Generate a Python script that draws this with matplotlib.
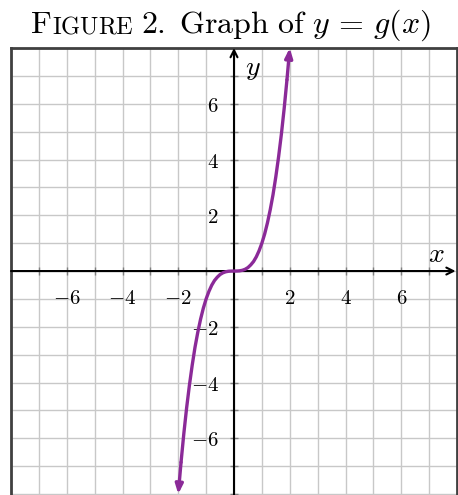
import matplotlib.pyplot as plt

plt.rcParams["mathtext.fontset"] = "cm"

# points along y = g(x), read every 0.1
xs = [-2.0, -1.9, -1.8, -1.7, -1.6, -1.5, -1.4, -1.3, -1.2, -1.1, -1.0,
      -0.9, -0.8, -0.7, -0.6, -0.5, -0.4, -0.3, -0.2, -0.1, 0.0,
      0.1, 0.2, 0.3, 0.4, 0.5, 0.6, 0.7, 0.8, 0.9, 1.0,
      1.1, 1.2, 1.3, 1.4, 1.5, 1.6, 1.7, 1.8, 1.9, 2.0]
ys = [-8.0, -6.86, -5.83, -4.91, -4.10, -3.38, -2.74, -2.20, -1.73, -1.33, -1.0,
      -0.73, -0.51, -0.34, -0.22, -0.125, -0.064, -0.027, -0.008, -0.001, 0.0,
      0.001, 0.008, 0.027, 0.064, 0.125, 0.22, 0.34, 0.51, 0.73, 1.0,
      1.33, 1.73, 2.20, 2.74, 3.38, 4.10, 4.91, 5.83, 6.86, 8.0]

x_labels = [-6, -4, -2, 2, 4, 6]
y_labels = [-6, -4, -2, 2, 4, 6]
grid_vals = list(range(-8, 9))

purple = "#8b2a98"

fig = plt.figure(figsize=(4.58, 4.95), dpi=100)
W, H = 458, 495
ax = fig.add_axes([11 / W, 1 - 498 / H, 446 / W, 450 / H])
ax.set_xlim(-8, 8)
ax.set_ylim(-8.14, 8)

ax.set_xticks(grid_vals)
ax.set_yticks(grid_vals)
ax.grid(True, color="#c8c8c8", lw=1)
ax.set_axisbelow(True)
ax.tick_params(length=0, labelbottom=False, labelleft=False)
for s in ax.spines.values():
    s.set_color("#404040")
    s.set_linewidth(2)

# coordinate axes
ax.annotate("", xy=(7.95, 0), xytext=(-8, 0),
            arrowprops=dict(arrowstyle="->,head_length=0.5,head_width=0.25",
                            lw=1.5, color="k", shrinkA=0, shrinkB=0))
ax.annotate("", xy=(0, 8), xytext=(0, -8.14),
            arrowprops=dict(arrowstyle="->,head_length=0.5,head_width=0.25",
                            lw=1.5, color="k", shrinkA=0, shrinkB=0))

ticks = [v for v in grid_vals if v != 0]
ax.plot(ticks, [0] * len(ticks), ls="none", marker="|", ms=6, color="#808080", mew=1)
ax.plot([0] * len(ticks), ticks, ls="none", marker="_", ms=6, color="#808080", mew=1)

for v in x_labels:
    ax.annotate(f"${v}$", (v, 0), xytext=(0, -12), textcoords="offset points",
                ha="center", va="top", fontsize=15)
for v in y_labels:
    ax.annotate(f"${v}$", (0, v), xytext=(-11, 0), textcoords="offset points",
                ha="right", va="center_baseline", fontsize=15)

ax.text(7.25, 0.62, "$x$", fontsize=20, ha="center", va="center")
ax.text(0.68, 7.28, "$y$", fontsize=20, ha="center", va="center")

# the curve with arrow heads at both ends
ax.plot(xs[1:-1], ys[1:-1], color=purple, lw=2.4, solid_capstyle="round", zorder=5)
head = dict(arrowstyle="-|>,head_length=0.55,head_width=0.22", lw=2.4,
            color=purple, shrinkA=0, shrinkB=0)
ax.annotate("", xy=(xs[-1], ys[-1]), xytext=(xs[-2], ys[-2]), arrowprops=head, zorder=5)
ax.annotate("", xy=(xs[0], ys[0]), xytext=(xs[1], ys[1]), arrowprops=head, zorder=5)

# title in small caps pieces
r = fig.canvas.get_renderer()
x0 = 30
base = 1 - 33 / H
parts = [(r"$\mathrm{F}$", 23, 0), (r"$\mathrm{IGURE}$", 17.5, 1),
         (r"$\mathrm{2.}$", 23, 7), (r"$\mathrm{Graph\ of}\ y\,=\,g(x)$", 23, 14)]
for txt, size, gap in parts:
    x0 += gap
    t = fig.text(x0 / W, base, txt, fontsize=size, ha="left", va="baseline")
    x0 = t.get_window_extent(r).x1

fig.savefig("out.png", dpi=100)
